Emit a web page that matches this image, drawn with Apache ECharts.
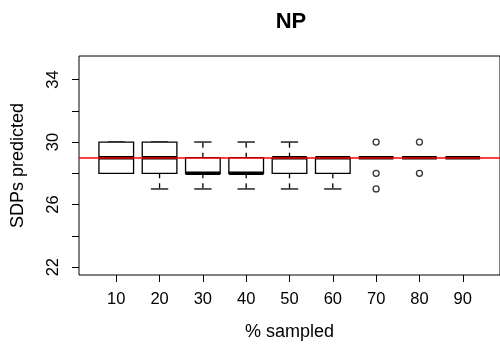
<!DOCTYPE html>
<html>
<head>
<meta charset="utf-8">
<script src="https://cdn.jsdelivr.net/npm/echarts@6/dist/echarts.min.js"></script>
<style>html,body{margin:0;padding:0;background:#fff;}#c{width:500px;height:349px;}</style>
</head>
<body>
<div id="c"></div>
<script>
// ---- data ----
const categories = ['10','20','30','40','50','60','70','80','90'];
const whiskerLow  = [28,27,27,27,27,27,29,29,29];
const q1          = [28,28,28,28,28,28,29,29,29];
const medians     = [29,29,28,28,29,29,29,29,29];
const q3          = [30,30,29,29,29,29,29,29,29];
const whiskerHigh = [30,30,30,30,30,29,29,29,29];
const outlierCategory = ['70','70','70','80','80'];
const outlierValue    = [30,28,27,30,28];
const referenceValue = 29;
const yTicks  = [22,24,26,28,30,32,34];
const yLabels = [22,26,30,34];

// ---- build ----
const boxData = categories.map((c,i)=>[i+1, whiskerLow[i], q1[i], medians[i], q3[i], whiskerHigh[i]]);
const outData = outlierCategory.map((c,i)=>[categories.indexOf(c)+1, outlierValue[i]]);
const positions = categories.map((c,i)=>i+1);
const font = 'Liberation Sans';

const chart = echarts.init(document.getElementById('c'), null, {renderer:'canvas'});
chart.setOption({
  animation:false,
  backgroundColor:'#fff',
  title:{text:'NP', left:291, top:11, padding:0, textAlign:'center',
    textStyle:{fontFamily:font, fontWeight:'bold', fontSize:22, color:'#000'}},
  grid:{left:79, top:56, width:424.7, height:219, show:true, borderColor:'#000', borderWidth:1, backgroundColor:'transparent'},
  xAxis:{type:'value', min:0.14, max:9.86,
    name:'% sampled', nameLocation:'middle', nameGap:48,
    nameTextStyle:{fontFamily:font, fontSize:18, color:'#000'},
    axisLine:{show:false}, splitLine:{show:false},
    axisTick:{show:true, customValues:positions, length:7, inside:false, lineStyle:{color:'#000'}},
    axisLabel:{customValues:positions, margin:16, fontFamily:font, fontSize:16.5, color:'#000',
      formatter:v=>categories[Math.round(v)-1]}},
  yAxis:{type:'value', min:21.5, max:35.5,
    name:'SDPs predicted', nameLocation:'middle', nameGap:52, nameRotate:90,
    nameTextStyle:{fontFamily:font, fontSize:18, color:'#000'},
    axisLine:{show:false}, splitLine:{show:false},
    axisTick:{show:true, customValues:yTicks, length:7, lineStyle:{color:'#000'}},
    axisLabel:{customValues:yLabels, rotate:90, margin:17, fontFamily:font, fontSize:16.5, color:'#000'}},
  series:[
    {type:'custom', data:boxData, z:2,
     renderItem:function(params, api){
       const x = api.value(0);
       const half = 0.4, capHalf = 0.2;
       const pMin = api.coord([x, api.value(1)]);
       const pQ1L = api.coord([x-half, api.value(2)]);
       const pQ3R = api.coord([x+half, api.value(4)]);
       const pMedL = api.coord([x-half, api.value(3)]);
       const pMedR = api.coord([x+half, api.value(3)]);
       const pMax = api.coord([x, api.value(5)]);
       const pQ1 = api.coord([x, api.value(2)]);
       const pQ3 = api.coord([x, api.value(4)]);
       const capL = api.coord([x-capHalf, 0])[0], capR = api.coord([x+capHalf, 0])[0];
       const st = {stroke:'#000', lineWidth:1.3, fill:null};
       const dash = {stroke:'#000', lineWidth:1.3, lineDash:[5,5]};
       const children = [];
       if (pMin[1] !== pQ1[1]) children.push({type:'line', shape:{x1:pQ1[0],y1:pQ1[1],x2:pMin[0],y2:pMin[1]}, style:dash});
       if (pMax[1] !== pQ3[1]) children.push({type:'line', shape:{x1:pQ3[0],y1:pQ3[1],x2:pMax[0],y2:pMax[1]}, style:dash});
       children.push({type:'line', shape:{x1:capL,y1:pMin[1],x2:capR,y2:pMin[1]}, style:st});
       children.push({type:'line', shape:{x1:capL,y1:pMax[1],x2:capR,y2:pMax[1]}, style:st});
       children.push({type:'rect', shape:{x:pQ1L[0], y:pQ3R[1], width:pQ3R[0]-pQ1L[0], height:pQ1L[1]-pQ3R[1]}, style:{stroke:'#000', lineWidth:1.3, fill:'#fff'}});
       children.push({type:'line', shape:{x1:pMedL[0],y1:pMedL[1],x2:pMedR[0],y2:pMedR[1]}, style:{stroke:'#000', lineWidth:3.5}});
       return {type:'group', children:children};
     },
     markLine:{silent:true, symbol:'none', label:{show:false},
       lineStyle:{color:'#ff0000', width:1.5, type:'solid'},
       data:[{yAxis:referenceValue}], z:10}
    },
    {type:'scatter', data:outData, symbol:'circle', symbolSize:6, z:3,
     itemStyle:{color:'#fff', borderColor:'#000', borderWidth:1.3}}
  ]
});
</script>
</body>
</html>
